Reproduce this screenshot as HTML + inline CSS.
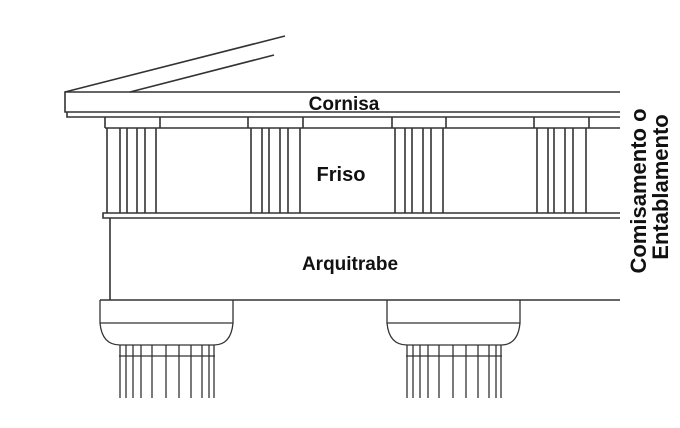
<!DOCTYPE html>
<html><head><style>body{margin:0;background:#fff}svg{display:block}</style></head>
<body>
<svg width="680" height="428" viewBox="0 0 680 428" xmlns="http://www.w3.org/2000/svg" font-family="Liberation Sans, sans-serif" font-weight="bold" fill="none" stroke="#333" stroke-width="1.6">
<line x1="65" y1="92" x2="285" y2="36"/>
<line x1="130" y1="92" x2="274" y2="55"/>
<path d="M620 92 H65 V112 H620"/>
<path d="M67 112 V117 H620"/>
<line x1="105" y1="128" x2="620" y2="128"/>
<g>
<path d="M105 117 V128 M160 117 V128 M248 117 V128 M303 117 V128 M392 117 V128 M446 117 V128 M534 117 V128 M589 117 V128"/>
<path d="M107 128V213 M120 128V213 M127 128V213 M137 128V213 M145 128V213 M156 128V213"/>
<path d="M251 128V213 M262 128V213 M269 128V213 M280 128V213 M288 128V213 M300 128V213"/>
<path d="M395 128V213 M405 128V213 M412 128V213 M423 128V213 M431 128V213 M443 128V213"/>
<path d="M537 128V213 M548 128V213 M554 128V213 M565 128V213 M573 128V213 M586 128V213"/>
</g>
<path d="M620 213 H103 V218 H620"/>
<line x1="110" y1="218" x2="110" y2="300"/>
<line x1="100" y1="300" x2="620" y2="300"/>
<g stroke-width="1.3">
<path d="M100 300 V323 H233 V300 M100 323 Q102 345 120 345 H214 Q231 345 233 323"/>
<path d="M387 300 V323 H520 V300 M387 323 Q389 345 407 345 H501 Q518 345 520 323"/>
<line x1="119" y1="356" x2="215" y2="356"/>
<line x1="406" y1="356" x2="502" y2="356"/>
<path d="M120 345V398 M126 345V398 M133 345V398 M141 345V398 M152 345V398 M166 345V398 M179 345V398 M191 345V398 M202 345V398 M209 345V398 M214 345V398"/>
<path d="M407 345V398 M413 345V398 M420 345V398 M428 345V398 M439 345V398 M453 345V398 M466 345V398 M478 345V398 M489 345V398 M496 345V398 M501 345V398"/>
</g>
<g fill="#111" stroke="none">
<text x="344" y="110" font-size="19" text-anchor="middle">Cornisa</text>
<text x="341" y="181" font-size="20" text-anchor="middle">Friso</text>
<text x="350" y="270" font-size="19" text-anchor="middle">Arquitrabe</text>
<text transform="translate(646,191) rotate(-90)" font-size="22" text-anchor="middle">Comisamento o</text>
<text transform="translate(668,187) rotate(-90)" font-size="22" text-anchor="middle">Entablamento</text>
</g>
</svg>
</body></html>
